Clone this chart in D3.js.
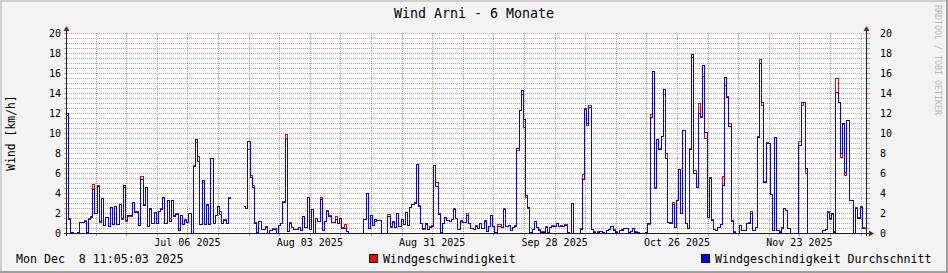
<!DOCTYPE html>
<html lang="de">
<head>
<meta charset="UTF-8">
<title>Wind Arni - 6 Monate</title>
<script src="https://d3js.org/d3.v7.min.js"></script>
<style>
    body { margin: 0; background: #f3f3f3; }
    svg { display: block; font-family: "DejaVu Sans Mono", monospace; }
    .pre { white-space: pre; }
</style>
</head>
<body>

<div id="chart"></div>

<script>
    // 12-hour values, first step starts 2025-06-08 06:00
    var windAvg = [
        12.0, 1.4, 0.1, 0, 0, 0.1, 1.1, 1.1, 1.2, 0.1,
        1.4, 1.6, 4.4, 2.0, 4.7, 1.2, 3.5, 0.8, 1.6, 0.7,
        2.6, 0.9, 2.7, 0.9, 2.9, 1.5, 4.8, 1.3, 1.8, 1.8,
        3.1, 2.1, 2.1, 0.8, 5.4, 2.8, 4.6, 0.7, 2.5, 1.0,
        2.1, 1.0, 2.2, 2.4, 3.6, 1.0, 3.3, 1.2, 3.3, 1.7,
        1.9, 0.3, 1.8, 0.9, 1.3, 1.1, 2.0, 0, 6.7, 9.4,
        7.2, 0.9, 5.3, 0.9, 2.9, 0.9, 7.5, 1.0, 1.8, 2.7,
        1.9, 1.0, 1.3, 1.0, 3.5, null, null, null, null, null,
        null, 2.7, 2.5, 9.2, 5.6, 4.6, 1.0, 0.1, 1.2, 0.4,
        0.4, 0.6, 0, 0.3, 0.4, 0.4, 0, 0.8, 1.0, 3.1,
        9.5, 0.2, 1.0, 0.6, 0.4, 0.4, 0.6, 0.3, 1.7, 0.6,
        3.6, 0.4, 2.4, 0, 1.5, 1.2, 3.4, 0.3, 1.2, 2.2,
        1.7, 1.1, 1.1, 1.4, 1.0, 1.5, 0.5, 0.5, 0.2, 0,
        0, 0, 0, 0, 0, 0, 1.4, 4.0, 0.5, 1.8,
        0.8, 1.4, 1.3, 1.3, 0, 0, 0, 1.7, 0.7, 1.1,
        0.6, 2.0, 0.7, 1.4, 0.9, 2.1, 0.8, 2.6, 2.9, 3.0,
        6.9, 2.7, 1.0, 0.5, 1.0, 0.4, 0.6, 0.7, 6.8, 4.7,
        1.9, 0.1, 1.0, 1.6, 1.3, 1.2, 1.4, 2.4, 1.5, 0.4,
        1.2, 1.1, 1.1, 1.8, 1.0, 0.5, 0.4, 0.7, 0.5, 1.0,
        0.5, 1.2, 0.2, 0.7, 1.8, 0.7, 0.1, 0.7, 0.7, 0.6,
        2.4, 0.7, 0.8, 0.3, 0.6, 0.7, 8.5, 12.3, 14.3, 11.4,
        3.8, 2.6, 0.1, 0.4, 1.2, 0.6, 0.3, 0.1, 0.1, 0.6,
        0.1, 0.6, 0.7, 0.7, 1.0, 0.7, 0.7, 0.7, 0.8, 0.1,
        0, 3.0, 0, 0, 0, 0.4, 5.4, 12.4, 11.0, 12.6,
        0.4, 0.1, 0, 0.1, 0.2, 0.1, 0, 0.3, 0.4, 0.7,
        0.3, 0.1, 0, 0.3, 0.3, 0.5, 0.5, 0.1, 0.2, 0.5,
        0.1, 0.1, 0, 0, 0, 0.1, 1.0, 11.6, 16.2, 4.6,
        9.4, 8.4, 9.7, 14.4, 7.5, 1.1, 1.0, 2.9, 0.6, 3.3,
        6.4, 2.0, 10.3, 1.0, 0.5, 8.4, 17.9, 6.0, 4.6, 12.0,
        11.7, 16.8, 10.1, 1.6, 5.5, 1.3, 0.4, 0.3, 0.6, 0.9,
        4.8, 15.6, 13.6, 10.7, 1.2, 0.1, 0, 0, 0.8, 0.3,
        0.3, 1.0, 1.0, 2.0, 0.3, 0.6, 9.6, 17.0, 13.1, 5.1,
        9.0, 9.0, 3.9, 0.3, 9.6, 0.3, 0.1, 0.5, 2.5, 2.3,
        0.5, 0, 0, 0, 0, 8.8, 13.1, 13.1, 6.5, 0,
        0, 0, 0, 0, 0, 0, 0.3, 0.4, 2.1, 1.5,
        2.0, 0.1, 14.1, 13.1, 8.0, 11.0, 6.1, 11.3, 3.3, 3.3,
        0, 2.5, 1.5, 2.6, 0.5, 0.5, 0.5
    ];

    var windSpeed = [
        11.8, 1.5, 0.1, 0, 0, 0.1, 1.1, 1.1, 1.3, 0.1,
        1.5, 1.7, 4.9, 2.0, 4.8, 1.1, 3.5, 0.8, 1.6, 0.7,
        2.6, 0.9, 2.7, 0.9, 2.9, 1.4, 4.6, 1.2, 1.7, 1.7,
        3.1, 2.2, 2.2, 0.8, 5.7, 2.9, 4.6, 0.7, 2.4, 1.0,
        2.1, 1.0, 2.2, 2.5, 3.6, 1.0, 3.3, 1.5, 3.3, 1.8,
        2.0, 0.5, 1.8, 0.9, 1.4, 1.1, 2.0, 0, 6.8, 9.1,
        7.7, 0.9, 5.1, 0.9, 2.8, 0.9, 7.5, 1.0, 1.8, 2.7,
        2.2, 1.0, 1.4, 1.0, 3.6, null, null, null, null, null,
        null, 2.7, 2.5, 8.4, 5.8, 4.8, 1.1, 0.1, 1.2, 0.4,
        0.4, 0.7, 0, 0.3, 0.5, 0.5, 0, 0.8, 1.0, 3.2,
        9.9, 0.2, 1.1, 0.6, 0.4, 0.4, 0.6, 0.3, 1.7, 0.6,
        3.6, 0.4, 2.4, 0, 1.5, 1.2, 3.6, 0.3, 1.2, 2.3,
        1.8, 1.1, 1.1, 1.7, 1.0, 1.5, 0.6, 0.9, 0.2, 0,
        0, 0, 0, 0, 0, 0, 1.4, 4.0, 0.5, 1.8,
        0.8, 1.2, 1.3, 1.3, 0, 0, 0, 1.9, 0.6, 1.2,
        0.6, 2.0, 0.7, 1.4, 0.9, 2.1, 0.8, 2.6, 2.9, 3.1,
        6.9, 2.8, 1.0, 0.4, 0.9, 0.4, 0.7, 0.8, 6.8, 5.1,
        2.0, 0.1, 1.0, 1.6, 1.3, 1.2, 1.4, 2.5, 1.5, 0.4,
        1.3, 1.1, 1.1, 2.0, 1.0, 0.5, 0.4, 0.8, 0.5, 1.0,
        0.5, 1.3, 0.2, 0.7, 1.8, 0.7, 0.1, 0.9, 0.9, 0.6,
        2.5, 0.7, 0.8, 0.3, 0.6, 0.8, 8.3, 12.3, 13.9, 10.6,
        3.6, 2.5, 0.1, 0.4, 1.2, 0.6, 0.4, 0.2, 0.2, 0.7,
        0.1, 0.6, 0.8, 0.7, 1.0, 0.7, 0.8, 0.7, 0.9, 0.1,
        0, 3.0, 0, 0, 0, 0.5, 5.9, 12.5, 10.8, 12.8,
        0.4, 0.2, 0, 0.2, 0.2, 0.1, 0, 0.3, 0.4, 0.7,
        0.4, 0.2, 0, 0.3, 0.4, 0.5, 0.5, 0.1, 0.2, 0.5,
        0.2, 0.1, 0, 0, 0, 0.1, 0.9, 11.9, 16.2, 4.5,
        9.4, 8.5, 9.7, 13.9, 8.0, 1.1, 1.1, 3.1, 0.6, 3.3,
        6.4, 2.0, 10.3, 1.0, 0.5, 8.5, 17.6, 6.3, 4.6, 13.0,
        11.6, 15.7, 9.5, 1.6, 5.6, 1.4, 0.4, 0.3, 0.6, 0.9,
        5.7, 14.8, 13.7, 11.0, 1.3, 0.2, 0, 0, 0.8, 0.3,
        0.3, 1.0, 1.1, 2.2, 0.3, 0.6, 9.7, 17.4, 12.8, 5.2,
        9.1, 9.0, 3.9, 0.3, 9.6, 0.3, 0.2, 0.6, 2.5, 2.3,
        0.5, 0, 0, 0, 0, 9.2, 12.8, 13.1, 6.0, 0,
        0, 0, 0, 0, 0, 0, 0.3, 0.4, 2.2, 1.4,
        1.9, 0.2, 15.5, 13.1, 7.6, 10.9, 5.8, 11.3, 3.3, 3.3,
        0, 2.6, 1.6, 2.7, 0.6, 0.5, 0.5
    ];

    var majorDates = ["2025-07-06", "2025-08-03", "2025-08-31", "2025-09-28", "2025-10-26", "2025-11-23"];
    var yTicks = [0, 2, 4, 6, 8, 10, 12, 14, 16, 18, 20];

    var titleText = "Wind Arni - 6 Monate",
        yLabel = "Wind [km/h]",
        stampText = "Mon Dec  8 11:05:03 2025",
        legendSpeed = "Windgeschwindigkeit",
        legendAvg = "Windgeschindigkeit Durchschnitt",
        watermark = "RRDTOOL / TOBI OETIKER";

    var startTime = new Date(2025, 5, 8, 11, 5, 3),
        endTime = new Date(2025, 11, 8, 11, 5, 3),
        firstStep = new Date(2025, 5, 8, 6, 0, 0),
        stepMs = 12 * 3600 * 1000;

    var width = 948, height = 273,
        plot = { left: 67, right: 867, top: 33, bottom: 233 };

    var colGrid = "rgba(143,143,143,0.75)",
        colMGrid = "rgba(222,79,79,0.6)",
        colAxis = "#1f1f1f",
        colArrow = "#801f1f";

    var x = d3.scaleTime().domain([startTime, endTime]).range([plot.left, plot.right]);
    var y = d3.scaleLinear().domain([0, 20]).range([plot.bottom, plot.top]);

    var svg = d3.select("#chart").append("svg")
        .attr("width", width)
        .attr("height", height);

    // background and shaded frame
    svg.append("rect").attr("width", width).attr("height", height).attr("fill", "#f3f3f3");
    svg.append("rect").attr("x", 0).attr("y", 0).attr("width", width).attr("height", 2).attr("fill", "#cfcfcf");
    svg.append("rect").attr("x", 0).attr("y", 0).attr("width", 2).attr("height", height).attr("fill", "#cfcfcf");
    svg.append("rect").attr("x", 0).attr("y", height - 2).attr("width", width).attr("height", 2).attr("fill", "#9e9e9e");
    svg.append("rect").attr("x", width - 2).attr("y", 0).attr("width", 2).attr("height", height).attr("fill", "#9e9e9e");

    svg.append("rect")
        .attr("x", plot.left).attr("y", plot.top)
        .attr("width", plot.right - plot.left).attr("height", plot.bottom - plot.top)
        .attr("fill", "#ffffff");

    // grid
    var grid = svg.append("g").attr("stroke-width", 1).attr("shape-rendering", "crispEdges");
    var parseDay = d3.timeParse("%Y-%m-%d");
    var majors = majorDates.map(parseDay);
    var majorKeys = majors.map(function (d) { return +d; });

    var weeks = d3.timeWeek.range(startTime, endTime).filter(function (d) {
        return majorKeys.indexOf(+d) < 0;
    });
    var yMinor = d3.range(0.5, 20, 0.5).filter(function (v) { return v % 2 !== 0; });

    grid.selectAll(".hminor").data(yMinor).enter().append("line")
        .attr("x1", plot.left).attr("x2", plot.right)
        .attr("y1", function (v) { return Math.round(y(v)) + 0.5; })
        .attr("y2", function (v) { return Math.round(y(v)) + 0.5; })
        .attr("stroke", colGrid).attr("stroke-dasharray", "1,1");

    grid.selectAll(".vminor").data(weeks).enter().append("line")
        .attr("x1", function (d) { return Math.round(x(d)) + 0.5; })
        .attr("x2", function (d) { return Math.round(x(d)) + 0.5; })
        .attr("y1", plot.top).attr("y2", plot.bottom)
        .attr("stroke", colGrid).attr("stroke-dasharray", "1,1");

    grid.selectAll(".hmajor").data(yTicks.slice(1)).enter().append("line")
        .attr("x1", plot.left).attr("x2", plot.right)
        .attr("y1", function (v) { return Math.round(y(v)) + 0.5; })
        .attr("y2", function (v) { return Math.round(y(v)) + 0.5; })
        .attr("stroke", colMGrid).attr("stroke-dasharray", "1,1");

    grid.selectAll(".vmajor").data(majors).enter().append("line")
        .attr("x1", function (d) { return Math.round(x(d)) + 0.5; })
        .attr("x2", function (d) { return Math.round(x(d)) + 0.5; })
        .attr("y1", plot.top).attr("y2", plot.bottom)
        .attr("stroke", colMGrid).attr("stroke-dasharray", "1,1");

    // small ticks outside the axes
    grid.selectAll(".ytick").data(yMinor.concat(yTicks)).enter().append("line")
        .attr("x1", plot.left - 3).attr("x2", plot.left)
        .attr("y1", function (v) { return Math.round(y(v)) + 0.5; })
        .attr("y2", function (v) { return Math.round(y(v)) + 0.5; })
        .attr("stroke", function (v) { return v % 2 === 0 ? colMGrid : colGrid; });
    grid.selectAll(".ytick2").data(yMinor.concat(yTicks)).enter().append("line")
        .attr("x1", plot.right).attr("x2", plot.right + 3)
        .attr("y1", function (v) { return Math.round(y(v)) + 0.5; })
        .attr("y2", function (v) { return Math.round(y(v)) + 0.5; })
        .attr("stroke", function (v) { return v % 2 === 0 ? colMGrid : colGrid; });
    grid.selectAll(".xtick").data(weeks.concat(majors)).enter().append("line")
        .attr("x1", function (d) { return Math.round(x(d)) + 0.5; })
        .attr("x2", function (d) { return Math.round(x(d)) + 0.5; })
        .attr("y1", plot.bottom).attr("y2", plot.bottom + 3)
        .attr("stroke", function (d) { return majorKeys.indexOf(+d) < 0 ? colGrid : colMGrid; });

    // axes
    var axes = svg.append("g").attr("stroke", colAxis).attr("stroke-width", 1).attr("shape-rendering", "crispEdges");
    axes.append("line").attr("x1", plot.left - 3).attr("x2", plot.right + 4)
        .attr("y1", plot.bottom + 0.5).attr("y2", plot.bottom + 0.5);
    axes.append("line").attr("x1", plot.left - 0.5).attr("x2", plot.left - 0.5)
        .attr("y1", plot.bottom + 3).attr("y2", plot.top - 4);
    axes.append("line").attr("x1", plot.right - 0.5).attr("x2", plot.right - 0.5)
        .attr("y1", plot.bottom + 3).attr("y2", plot.top - 4);

    svg.append("path").attr("fill", colArrow)
        .attr("d", "M" + (plot.left - 3.5) + "," + (plot.top - 2) + "L" + (plot.left + 2.5) + "," + (plot.top - 2) + "L" + (plot.left - 0.5) + "," + (plot.top - 7) + "Z");
    svg.append("path").attr("fill", colArrow)
        .attr("d", "M" + (plot.right - 3.5) + "," + (plot.top - 2) + "L" + (plot.right + 2.5) + "," + (plot.top - 2) + "L" + (plot.right - 0.5) + "," + (plot.top - 7) + "Z");
    svg.append("path").attr("fill", colArrow)
        .attr("d", "M" + (plot.right + 2) + "," + (plot.bottom - 2.5) + "L" + (plot.right + 2) + "," + (plot.bottom + 3.5) + "L" + (plot.right + 7) + "," + (plot.bottom + 0.5) + "Z");

    // step lines
    function stepPoints(values) {
        var pts = [];
        values.forEach(function (v, i) {
            var t0 = new Date(firstStep.getTime() + i * stepMs),
                t1 = new Date(firstStep.getTime() + (i + 1) * stepMs);
            pts.push({ t: t0, v: v }, { t: t1, v: v });
        });
        return pts;
    }

    svg.append("clipPath").attr("id", "plotclip").append("rect")
        .attr("x", plot.left).attr("y", 0)
        .attr("width", plot.right - plot.left).attr("height", plot.bottom + 2);

    // snap to pixel centres like rrdtool does
    var line = d3.line()
        .defined(function (d) { return d.v !== null; })
        .x(function (d) { return Math.round(x(d.t)) + 0.5; })
        .y(function (d) { return Math.round(y(d.v)) + 0.5; });

    var lines = svg.append("g").attr("clip-path", "url(#plotclip)")
        .attr("shape-rendering", "crispEdges");
    lines.append("path").datum(stepPoints(windSpeed))
        .attr("fill", "none").attr("stroke", "#ff0000").attr("stroke-width", 1)
        .attr("d", line);
    lines.append("path").datum(stepPoints(windAvg))
        .attr("fill", "none").attr("stroke", "#0000ff").attr("stroke-width", 1)
        .attr("d", line);

    // labels
    var fmt = d3.timeFormat("%b %d %Y");
    svg.selectAll(".xlab").data(majors).enter().append("text")
        .attr("x", function (d) { return x(d); })
        .attr("y", 246)
        .attr("text-anchor", "middle")
        .attr("font-size", "10px")
        .text(function (d) { return fmt(d); });

    svg.selectAll(".ylab").data(yTicks).enter().append("text")
        .attr("x", plot.left - 6)
        .attr("y", function (v) { return y(v) + 3.5; })
        .attr("text-anchor", "end")
        .attr("font-size", "10px")
        .text(function (v) { return v; });

    svg.selectAll(".ylab2").data(yTicks).enter().append("text")
        .attr("x", plot.right + 13)
        .attr("y", function (v) { return y(v) + 3.5; })
        .attr("text-anchor", "start")
        .attr("font-size", "10px")
        .text(function (v) { return v; });

    svg.append("text")
        .attr("x", 474).attr("y", 18)
        .attr("text-anchor", "middle")
        .attr("font-size", "13.3px")
        .text(titleText);

    svg.append("text")
        .attr("transform", "translate(14.5,133) rotate(-90)")
        .attr("text-anchor", "middle")
        .attr("font-size", "11.4px")
        .text(yLabel);

    svg.append("text")
        .attr("transform", "translate(935,5) rotate(90)")
        .attr("font-size", "8.3px")
        .attr("fill", "#b8b8b8")
        .text(watermark);

    svg.append("text")
        .attr("class", "pre")
        .attr("x", 16).attr("y", 263)
        .attr("font-size", "11.6px")
        .text(stampText);

    var legend = [
        { x: 369, color: "#ff0000", label: legendSpeed },
        { x: 701, color: "#0000ff", label: legendAvg }
    ];
    var lg = svg.selectAll(".legend").data(legend).enter().append("g");
    lg.append("rect")
        .attr("x", function (d) { return d.x + 0.5; }).attr("y", 254.5)
        .attr("width", 8).attr("height", 8)
        .attr("fill", function (d) { return d.color; })
        .attr("stroke", "#000").attr("stroke-width", 1);
    lg.append("text")
        .attr("x", function (d) { return d.x + 14; }).attr("y", 263)
        .attr("font-size", "11.6px")
        .text(function (d) { return d.label; });
</script>

</body>
</html>
